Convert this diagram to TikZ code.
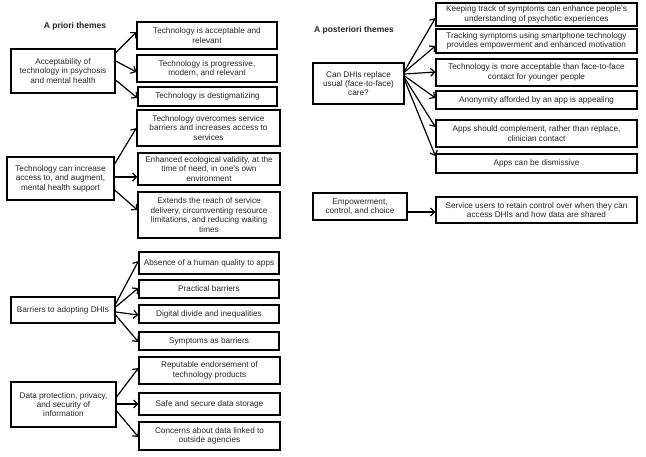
\documentclass[tikz,border=0pt]{standalone}
\usepackage{fontspec}
\setmainfont{Liberation Sans}
\usetikzlibrary{arrows.meta}
\newcommand{\fs}{\fontsize{8.2}{9.4}\selectfont}
\newcommand{\bx}[6]{%
  \pgfmathsetmacro\bxw{#4-#2}\pgfmathsetmacro\bxh{#5-#3}%
  \node[box, minimum width=\bxw pt, minimum height=\bxh pt] (#1) at ({(#2+#4)/2},{(#3+#5)/2}) {#6};}
\begin{document}
\begin{tikzpicture}[x=1pt,y=-1pt,
  box/.style={draw=black, line width=1.2pt, align=center, inner sep=1pt, font=\fs, text=black!85},
  arr/.style={line width=1.2pt, -{Straight Barb[length=4pt,width=8pt]}},
  ttl/.style={font=\fontsize{8.5}{10}\selectfont\bfseries, text=black!85}]
\useasboundingbox (0,0) rectangle (646,457);

\node[ttl] (t1) at (75,26) {A priori themes};
\node[ttl] (t2) at (354,30) {A posteriori themes};

% left column
\bx{L1}{11}{49}{115}{93}{Acceptability of\\technology in psychosis\\and mental health}
\bx{C1}{137}{22}{277}{49}{Technology is acceptable and\\relevant}
\bx{C2}{137}{55}{277}{82}{Technology is progressive,\\modern, and relevant}
\bx{C3}{138}{87}{277}{106}{Technology is destigmatizing}

\bx{L2}{7}{157}{114}{200}{Technology can increase\\access to, and augment,\\mental health support}
\bx{C4}{137}{110}{280}{146}{Technology overcomes service\\barriers and increases access to\\services}
\bx{C5}{138}{153}{280}{185}{Enhanced ecological validity, at the\\time of need, in one's own\\environment}
\bx{C6}{138}{192}{280}{238}{Extends the reach of service\\delivery, circumventing resource\\limitations, and reducing waiting\\times}

\bx{L3}{11}{297}{115}{323}{Barriers to adopting DHIs}
\bx{C7}{139}{252}{279}{274}{Absence of a human quality to apps}
\bx{C8}{139}{280}{279}{298}{Practical barriers}
\bx{C9}{139}{305}{279}{323}{Digital divide and inequalities}
\bx{C10}{139}{332}{279}{350}{Symptoms as barriers}

\bx{L4}{11}{382}{116}{427}{Data protection, privacy,\\and security of\\information}
\bx{C11}{139}{357}{280}{384}{Reputable endorsement of\\technology products}
\bx{C12}{139}{393}{280}{415}{Safe and secure data storage}
\bx{C13}{139}{422}{280}{450}{Concerns about data linked to\\outside agencies}

% right column
\bx{R1}{313}{63}{404}{104}{Can DHIs replace\\usual (face-to-face)\\care?}
\bx{RC1}{436}{3}{637}{26}{Keeping track of symptoms can enhance people's\\understanding of psychotic experiences}
\bx{RC2}{436}{29}{637}{53}{Tracking symptoms using smartphone technology\\provides empowerment and enhanced motivation}
\bx{RC3}{436}{59}{637}{86}{Technology is more acceptable than face-to-face\\contact for younger people}
\bx{RC4}{436}{91}{637}{109}{Anonymity afforded by an app is appealing}
\bx{RC5}{436}{120}{637}{147}{Apps should complement, rather than replace,\\clinician contact}
\bx{RC6}{436}{154}{637}{173}{Apps can be dismissive}

\bx{R2}{313}{193}{407}{220}{Empowerment,\\control, and choice}
\bx{RC7}{436}{197}{637}{223}{Service users to retain control over when they can\\access DHIs and how data are shared}

% arrows left
\draw[arr] (L1.east |- 0,53) -- (C1.west |- 0,32);
\draw[arr] (L1.east |- 0,61) -- (C2.west |- 0,72);
\draw[arr] (L1.east |- 0,80) -- (C3.west |- 0,98);

\draw[arr] (L2.east |- 0,164) -- (C4.west |- 0,128);
\draw[arr] (L2.east |- 0,177) -- (C5.west |- 0,177);
\draw[arr] (L2.east |- 0,190) -- (C6.west |- 0,210);

\draw[arr] (L3.east |- 0,304) -- (C7.west |- 0,261);
\draw[arr] (L3.east |- 0,307) -- (C8.west |- 0,288);
\draw[arr] (L3.east |- 0,312) -- (C9.west |- 0,315);
\draw[arr] (L3.east |- 0,315) -- (C10.west |- 0,342);

\draw[arr] (L4.east |- 0,397) -- (C11.west |- 0,368);
\draw[arr] (L4.east |- 0,404) -- (C12.west |- 0,404);
\draw[arr] (L4.east |- 0,411) -- (C13.west |- 0,437);

% arrows right
\draw[arr] (R1.east |- 0,71) -- (RC1.west |- 0,18);
\draw[arr] (R1.east |- 0,72) -- (RC2.west |- 0,46);
\draw[arr] (R1.east |- 0,74) -- (RC3.west |- 0,72);
\draw[arr] (R1.east |- 0,76) -- (RC4.west |- 0,98);
\draw[arr] (R1.east |- 0,78) -- (RC5.west |- 0,127);
\draw[arr] (R1.east |- 0,80) -- (RC6.west |- 0,156);

\draw[arr] (R2.east |- 0,212) -- (RC7.west |- 0,212);
\end{tikzpicture}
\end{document}
